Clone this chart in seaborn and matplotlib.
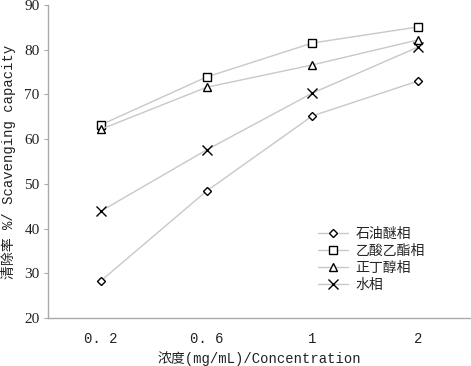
import matplotlib
matplotlib.use("Agg")
import matplotlib.pyplot as plt
import seaborn as sns
import pandas as pd
import numpy as np

categories = ["0.2", "0.6", "1", "2"]
tick_labels = ["0. 2", "0. 6", "1", "2"]
series_names = ["石油醚相", "乙酸乙酯相", "正丁醇相", "水相"]
petroleum = [28.3, 48.4, 65.2, 73.0]
ethyl_acetate = [63.2, 73.9, 81.5, 85.1]
butanol = [62.2, 71.6, 76.6, 82.2]
water = [43.9, 57.6, 70.3, 80.6]

sns.set_style("white")
plt.rcParams['font.family'] = ['Liberation Mono', 'Noto Sans CJK SC', 'DejaVu Sans']

rows = []
for name, vals in zip(series_names, [petroleum, ethyl_acetate, butanol, water]):
    for i, v in enumerate(vals):
        rows.append({"x": i, "y": v, "series": name})
df = pd.DataFrame(rows)

fig = plt.figure(figsize=(4.71, 3.66), dpi=100)
ax = fig.add_axes([48/471, 1-318/366, 1-48/471, (318-5)/366])

markers = {"石油醚相": "D", "乙酸乙酯相": "s", "正丁醇相": "^", "水相": "x"}
sizes = {"石油醚相": 4.5, "乙酸乙酯相": 5.5, "正丁醇相": 6, "水相": 6.5}
for name in series_names:
    sub = df[df.series == name]
    sns.lineplot(data=sub, x="x", y="y", ax=ax, color="#c8c8c8", lw=1.0,
                 marker=markers[name], markersize=sizes[name],
                 markerfacecolor="white", markeredgecolor="black",
                 markeredgewidth=1.0, label=name)
for line in ax.get_lines():
    if line.get_marker() == "x":
        line.set_markeredgecolor("black")

ax.set_xlim(-0.5, 3.5)
ax.set_ylim(20, 90)
ax.set_yticks(range(20, 91, 10))
ax.set_yticklabels([str(v) for v in range(20, 91, 10)], fontfamily="Liberation Serif", fontsize=11, color="#222222")
ax.set_xticks(range(4))
ax.set_xticklabels(tick_labels, fontsize=10, color="#222222")
ax.set_xticks([0.5, 1.5, 2.5], minor=True)
ax.tick_params(axis="x", which="major", length=0, pad=10)
ax.tick_params(axis="x", which="minor", length=3, direction="in", color="#aaaaaa")
ax.tick_params(axis="y", length=3, direction="out", color="#aaaaaa", left=True, pad=3)

ax.set_xlabel("浓度(mg/mL)/Concentration", fontsize=10, color="#222222", labelpad=4)
ax.set_ylabel("清除率 %/ Scavenging capacity", fontsize=10, color="#222222", labelpad=6)

for s in ["top", "right"]:
    ax.spines[s].set_visible(False)
for s in ["left", "bottom"]:
    ax.spines[s].set_color("#aaaaaa")
    ax.spines[s].set_linewidth(1.0)

leg = ax.legend(loc="upper left", bbox_to_anchor=(0.625, 0.31), frameon=False,
                fontsize=10, handlelength=2.2, labelspacing=0.22, handletextpad=0.5,
                borderaxespad=0)

fig.savefig("out.png", dpi=100)
